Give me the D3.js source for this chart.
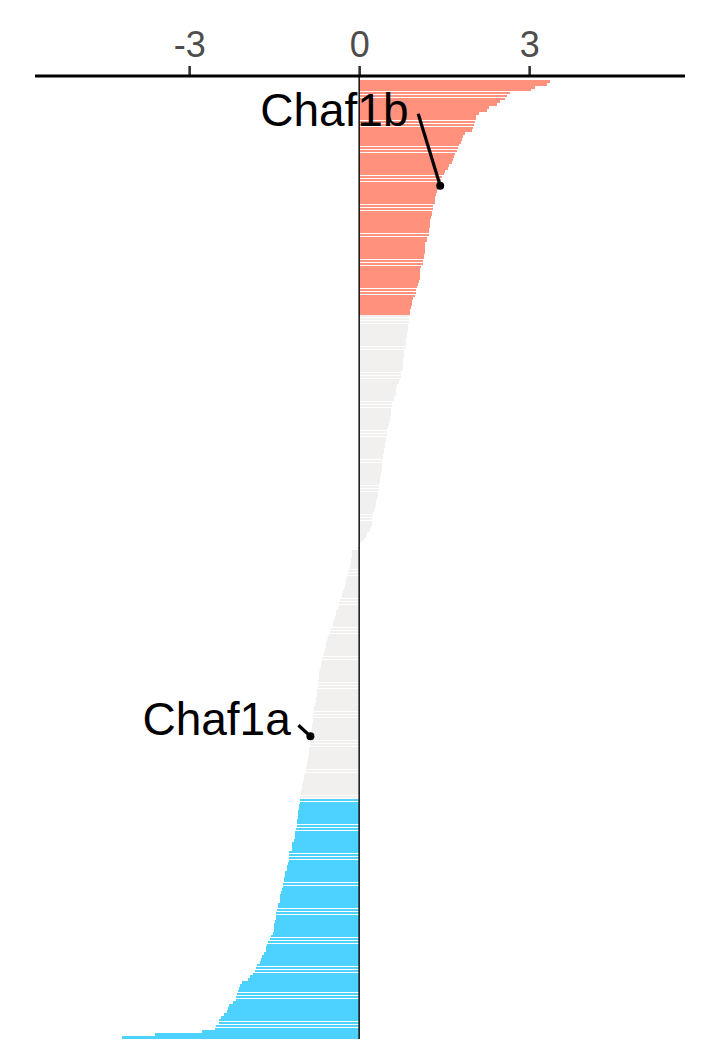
<!DOCTYPE html>
<html>
<head>
<meta charset="utf-8">
<script src="https://cdn.jsdelivr.net/npm/d3@7"></script>
<style>
  html, body { margin: 0; padding: 0; background: #ffffff; }
  svg { display: block; }
</style>
</head>
<body>
<svg id="chart" width="708" height="1062"></svg>
<script>
// ---- data (sorted log fold changes, one per gene) ----
const values = [
  3.37, 3.32, 3.11, 3.04, 2.66, 2.61, 2.58, 2.49, 2.44, 2.29,
  2.26, 2.12, 2.07, 2.06, 2.04, 2.02, 2.01, 1.99, 1.86, 1.84,
  1.82, 1.80, 1.77, 1.75, 1.73, 1.70, 1.68, 1.65, 1.63, 1.59,
  1.57, 1.52, 1.49, 1.46, 1.45, 1.44, 1.43, 1.40, 1.38, 1.35,
  1.34, 1.34, 1.33, 1.30, 1.30, 1.28, 1.28, 1.27, 1.25, 1.25,
  1.25, 1.24, 1.23, 1.23, 1.19, 1.19, 1.17, 1.17, 1.16, 1.16,
  1.14, 1.14, 1.12, 1.12, 1.10, 1.07, 1.07, 1.07, 1.07, 1.06,
  1.04, 1.02, 1.00, 1.00, 0.98, 0.95, 0.93, 0.93, 0.91, 0.89,
  0.89,
  0.88, 0.88, 0.88, 0.87, 0.86, 0.86, 0.84, 0.84, 0.83, 0.82,
  0.82, 0.82, 0.80, 0.80, 0.79, 0.78, 0.77, 0.77, 0.77, 0.75,
  0.74, 0.74, 0.72, 0.70, 0.67, 0.65, 0.65, 0.65, 0.62, 0.61,
  0.58, 0.58, 0.57, 0.56, 0.56, 0.54, 0.54, 0.52, 0.51, 0.49,
  0.49, 0.49, 0.47, 0.47, 0.45, 0.45, 0.44, 0.44, 0.42, 0.42,
  0.41, 0.40, 0.40, 0.40, 0.38, 0.38, 0.37, 0.36, 0.35, 0.35,
  0.35, 0.33, 0.33, 0.31, 0.30, 0.29, 0.28, 0.26, 0.24, 0.24,
  0.23, 0.22, 0.22, 0.21, 0.19, 0.14, 0.12, 0.09, 0.03, 0.01,
  -0.03,
  -0.12, -0.13, -0.13, -0.15, -0.15, -0.16, -0.18, -0.19, -0.20, -0.22,
  -0.23, -0.24, -0.25, -0.27, -0.29, -0.30, -0.31, -0.33, -0.35, -0.36,
  -0.38, -0.40, -0.41, -0.43, -0.44, -0.46, -0.47, -0.50, -0.52, -0.53,
  -0.55, -0.57, -0.58, -0.59, -0.61, -0.62, -0.63, -0.65, -0.66, -0.67,
  -0.68, -0.69, -0.70, -0.70, -0.71, -0.72, -0.72, -0.73, -0.74, -0.74,
  -0.75, -0.76, -0.77, -0.78, -0.79, -0.79, -0.80, -0.81, -0.82, -0.82,
  -0.83, -0.84, -0.84, -0.85, -0.86,
  -0.86, -0.87, -0.87, -0.88, -0.88, -0.89, -0.90, -0.91, -0.92, -0.92,
  -0.93, -0.94, -0.96, -0.97, -0.98, -0.99, -1.00, -1.01, -1.02, -1.03,
  -1.04,
  -1.05, -1.05, -1.06, -1.06, -1.08, -1.08, -1.08, -1.09, -1.09, -1.10,
  -1.11, -1.13, -1.13, -1.14, -1.15, -1.18, -1.18, -1.19, -1.24, -1.24,
  -1.24, -1.24, -1.25, -1.27, -1.28, -1.30, -1.31, -1.32, -1.33, -1.34,
  -1.34, -1.36, -1.38, -1.39, -1.39, -1.40, -1.43, -1.44, -1.45, -1.46,
  -1.46, -1.47, -1.48, -1.50, -1.50, -1.51, -1.52, -1.55, -1.58, -1.61,
  -1.63, -1.65, -1.65, -1.68, -1.71, -1.73, -1.75, -1.80, -1.82, -1.84,
  -1.87, -1.92, -1.96, -2.06, -2.10, -2.12, -2.14, -2.15, -2.17, -2.17,
  -2.22, -2.29, -2.31, -2.33, -2.38, -2.44, -2.47, -2.47, -2.52, -2.54,
  -2.77, -3.60, -4.18
];

// highlighted genes and their rank in the sorted list
const labelGenes = ["Chaf1b", "Chaf1a"];
const labelRanks = [36, 226];

// axis ticks
const tickValues = [-3, 0, 3];
const tickLabels = ["-3", "0", "3"];

// classification cut-offs
const upCut = 0.885;
const downCut = -1.045;

// ---- styling / layout ----
const colUp = "#FF917D", colDown = "#4DD1FF", colNS = "#F1F0EE";
const labelOffsets = [
  { tx: -180, ty: -60, sx: -22, sy: -72 },
  { tx: -168, ty: -1,  sx: -12, sy: -11 }
];

const svg = d3.select("#chart");
const W = 708, H = 1062;
svg.append("rect").attr("width", W).attr("height", H).attr("fill", "#fff");

const x = d3.scaleLinear().domain([-5.72, 5.75]).range([35, 685]);
const y = d3.scaleBand()
  .domain(d3.range(values.length))
  .range([80, 1039])
  .paddingInner(0.1)
  .paddingOuter(0.05);

const colorOf = v => v >= upCut ? colUp : (v <= downCut ? colDown : colNS);

// bars
svg.append("g")
  .attr("shape-rendering", "crispEdges")
  .selectAll("rect")
  .data(values)
  .join("rect")
  .attr("x", d => Math.min(x(0), x(d)))
  .attr("width", d => Math.abs(x(d) - x(0)))
  .attr("y", (d, i) => y(i))
  .attr("height", y.bandwidth())
  .attr("fill", d => colorOf(d));

// zero line
svg.append("line")
  .attr("x1", x(0)).attr("x2", x(0))
  .attr("y1", 77).attr("y2", 1039)
  .attr("stroke", "#000").attr("stroke-width", 1.4);

// top axis
const axis = d3.axisTop(x)
  .tickValues(tickValues)
  .tickFormat((d, i) => tickLabels[i])
  .tickSize(10)
  .tickSizeOuter(0);
const gAxis = svg.append("g").attr("transform", "translate(0,76)").call(axis);
gAxis.select(".domain").remove();
gAxis.append("line")
  .attr("x1", 35).attr("x2", 685).attr("y1", 0).attr("y2", 0)
  .attr("stroke", "#000").attr("stroke-width", 3);
gAxis.selectAll(".tick line").attr("stroke", "#333").attr("stroke-width", 2.6);
gAxis.selectAll(".tick text")
  .attr("fill", "#4D4D4D")
  .attr("font-family", "'Liberation Sans', Arial, sans-serif")
  .attr("font-size", 36)
  .attr("y", -19);

// labels
const lab = svg.append("g");
labelGenes.forEach((g, k) => {
  const r = labelRanks[k];
  const px = x(values[r]);
  const py = y(r) + y.bandwidth() / 2;
  const o = labelOffsets[k];
  lab.append("line")
    .attr("x1", px + o.sx).attr("y1", py + o.sy)
    .attr("x2", px).attr("y2", py)
    .attr("stroke", "#000").attr("stroke-width", 3.2);
  lab.append("circle")
    .attr("cx", px).attr("cy", py).attr("r", 4)
    .attr("fill", "#000");
  lab.append("text")
    .attr("x", px + o.tx).attr("y", py + o.ty)
    .attr("font-family", "'Liberation Sans', Arial, sans-serif")
    .attr("font-size", 46)
    .attr("fill", "#000")
    .text(g);
});
</script>
</body>
</html>
